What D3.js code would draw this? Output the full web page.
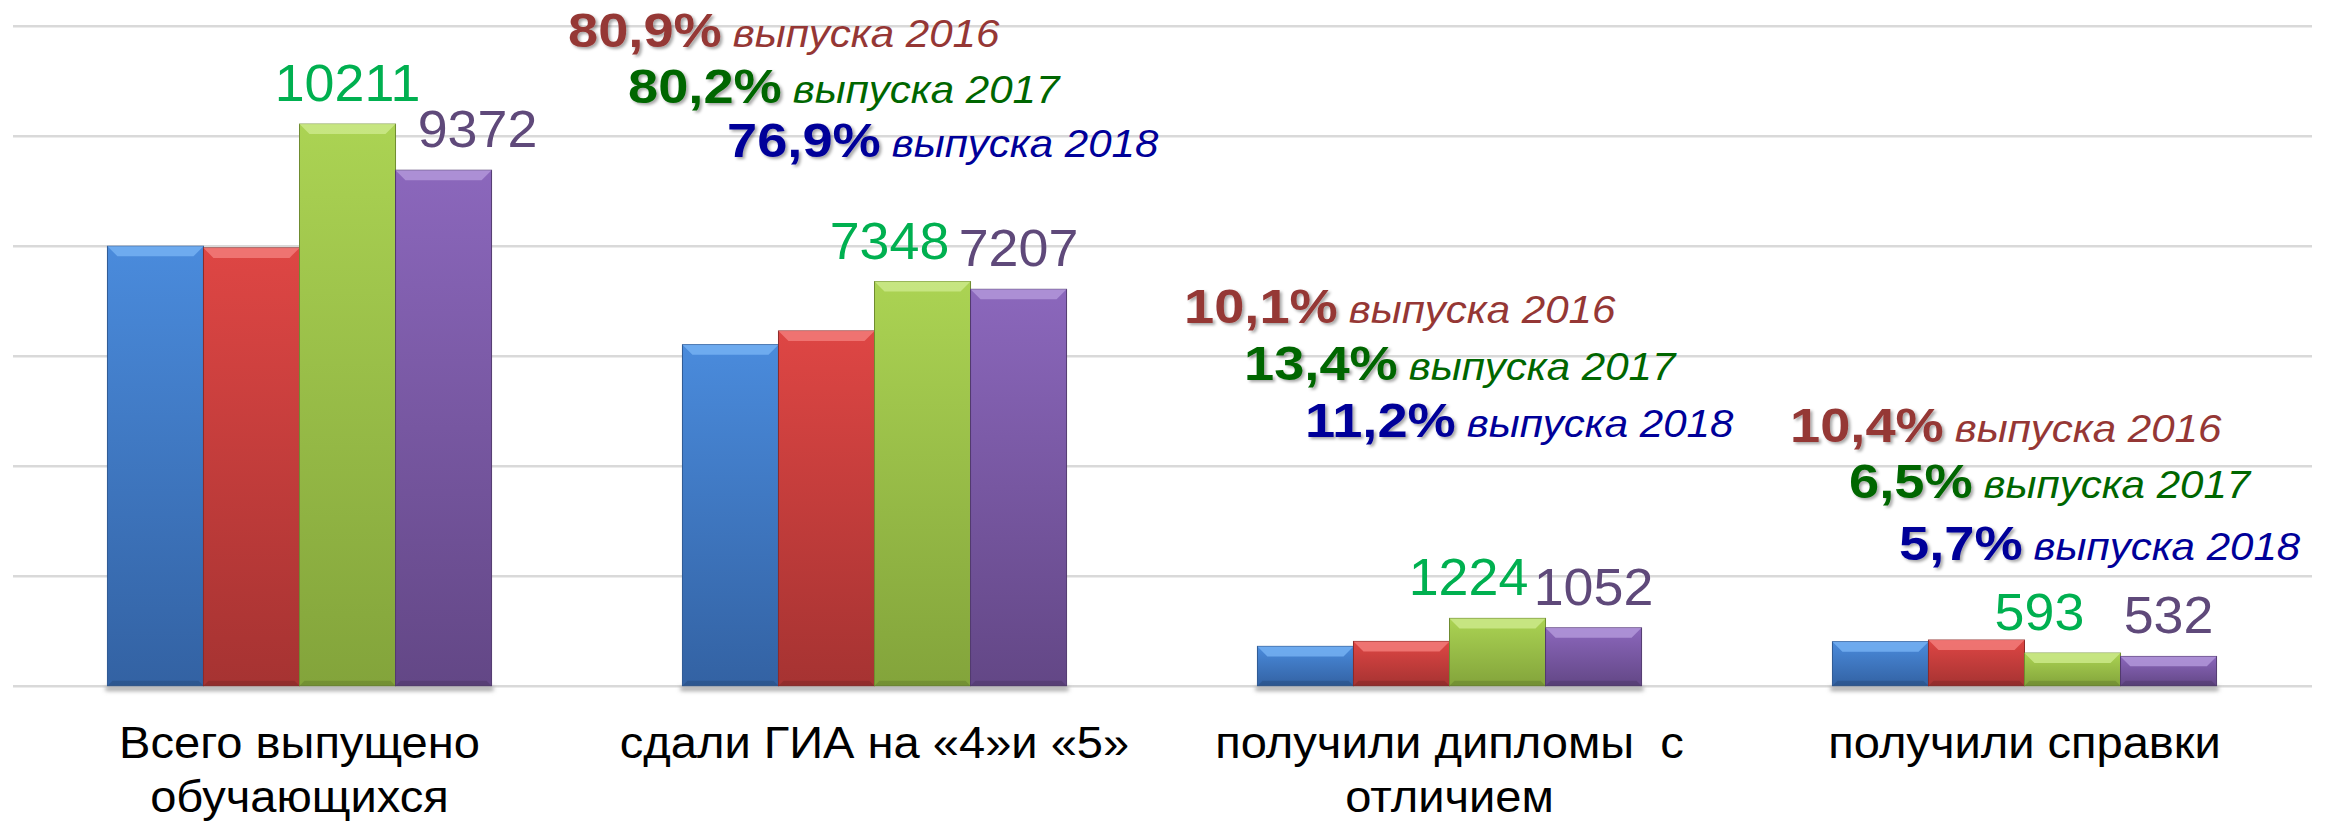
<!DOCTYPE html>
<html>
<head>
<meta charset="utf-8">
<script src="https://cdn.jsdelivr.net/npm/d3@7"></script>
<style>
  body { margin: 0; background: #fff; }
  svg { display: block; font-family: "Liberation Sans", Arial, sans-serif; }
</style>
</head>
<body>
<div id="chart"></div>
<script>
// categories (line breaks as in the original slide)
var categories = ["Всего выпущено\nобучающихся", "сдали ГИА на «4»и «5»", "получили дипломы  с\nотличием", "получили справки"];
var seriesKeys = ["2015", "2016", "2017", "2018"];

// values (2015/2016 have no labels)
var values2015 = [7990, 6200, 715, 800];
var values2016 = [7960, 6450, 805, 830];
var values2017 = [10211, 7348, 1224, 593];
var values2018 = [9372, 7207, 1052, 532];
var labelledSeries = ["2017", "2018"];

var yTicks = [0, 2000, 4000, 6000, 8000, 10000, 12000];

// share annotations
var noteYears = ["2016", "2017", "2018"];
var noteGia = ["80,9%", "80,2%", "76,9%"];
var noteHonours = ["10,1%", "13,4%", "11,2%"];
var noteCert = ["10,4%", "6,5%", "5,7%"];

var W = 2334, H = 823;
var plotLeft = 12, plotRight = 2312, plotTop = 25.7, plotBottom = 685.7;

var svg = d3.select("#chart").append("svg")
  .attr("width", W)
  .attr("height", H);

var defs = svg.append("defs");

var colors = {
  "2015": { top: "#4a8bdc", bottom: "#3362a3", light: "#74b0f2", edge: "#2d5892" },
  "2016": { top: "#de4644", bottom: "#a63332", light: "#f27b79", edge: "#8e2a29" },
  "2017": { top: "#abd353", bottom: "#83a43b", light: "#cbe98a", edge: "#6f8c30" },
  "2018": { top: "#8b67bc", bottom: "#634786", light: "#b197d9", edge: "#523a70" }
};

seriesKeys.forEach(function(k) {
  var g = defs.append("linearGradient")
    .attr("id", "grad" + k)
    .attr("x1", 0).attr("y1", 0).attr("x2", 0).attr("y2", 1);
  g.append("stop").attr("offset", "0%").attr("stop-color", colors[k].top);
  g.append("stop").attr("offset", "100%").attr("stop-color", colors[k].bottom);
});

var shadow = defs.append("filter").attr("id", "txtShadow")
  .attr("x", "-10%").attr("y", "-20%").attr("width", "130%").attr("height", "150%");
shadow.append("feDropShadow")
  .attr("dx", 2).attr("dy", 2).attr("stdDeviation", 1.6)
  .attr("flood-color", "#000").attr("flood-opacity", 0.35);

var blur = defs.append("filter").attr("id", "barShadow")
  .attr("x", "-5%").attr("y", "-200%").attr("width", "110%").attr("height", "500%");
blur.append("feGaussianBlur").attr("stdDeviation", 2.2);

// scales
var x0 = d3.scaleBand()
  .domain(categories)
  .range([plotLeft, plotRight])
  .padding(0);

var bw = x0.bandwidth();
var groupW = bw * 0.668;
var x1 = d3.scaleBand()
  .domain(seriesKeys)
  .range([(bw - groupW) / 2, (bw + groupW) / 2])
  .padding(0);

var y = d3.scaleLinear()
  .domain([0, 12000])
  .range([plotBottom, plotTop]);

// gridlines
var grid = svg.append("g")
  .attr("transform", "translate(" + (plotLeft + 1) + ",0)")
  .call(d3.axisLeft(y).tickValues(yTicks).tickSize(-(plotRight - plotLeft - 1)).tickFormat(""));
grid.select(".domain").remove();
grid.selectAll(".tick line").attr("stroke", "#d9d9d9").attr("stroke-width", 2.5);

// table rows
var table = categories.map(function(c, i) {
  return { cat: c, "2015": values2015[i], "2016": values2016[i], "2017": values2017[i], "2018": values2018[i] };
});

// soft shadow under each group
svg.append("g").selectAll("rect")
  .data(categories)
  .enter().append("rect")
    .attr("x", function(d) { return x0(d) + x1.range()[0] - 2; })
    .attr("y", plotBottom + 1)
    .attr("width", groupW + 4)
    .attr("height", 4)
    .attr("fill", "#9a9a9a")
    .attr("filter", "url(#barShadow)");

var groups = svg.append("g").selectAll("g")
  .data(table)
  .enter().append("g")
    .attr("transform", function(d) { return "translate(" + x0(d.cat) + ",0)"; });

var bars = groups.selectAll("g")
  .data(function(d) { return seriesKeys.map(function(k) { return { key: k, value: d[k] }; }); })
  .enter().append("g");

bars.append("rect")
  .attr("x", function(d) { return x1(d.key); })
  .attr("y", function(d) { return y(d.value); })
  .attr("width", x1.bandwidth())
  .attr("height", function(d) { return y(0) - y(d.value); })
  .attr("fill", function(d) { return "url(#grad" + d.key + ")"; })
  .attr("stroke", function(d) { return colors[d.key].edge; })
  .attr("stroke-width", 1);

// bevel on top of each bar
bars.append("polygon")
  .attr("points", function(d) {
    var xl = x1(d.key), xr = xl + x1.bandwidth(), t = y(d.value);
    var dep = Math.min(10, (y(0) - t) / 3);
    return [[xl, t], [xr, t], [xr - dep, t + dep], [xl + dep, t + dep]].join(" ");
  })
  .attr("fill", function(d) { return colors[d.key].light; })
  .attr("opacity", 0.85);

// darker bevel at the bottom
bars.append("polygon")
  .attr("points", function(d) {
    var xl = x1(d.key), xr = xl + x1.bandwidth(), b = y(0);
    var dep = Math.min(5, (y(0) - y(d.value)) / 4);
    return [[xl, b], [xr, b], [xr - dep, b - dep], [xl + dep, b - dep]].join(" ");
  })
  .attr("fill", "#000")
  .attr("opacity", 0.12);

// value labels for 2017 and 2018
var labelNudge = { "2017": [0, -33, -29, -33], "2018": [34, 0, 0, 0] };
var labelColor = { "2017": "#00b050", "2018": "#5f497a" };

groups.each(function(row, i) {
  d3.select(this).selectAll("text.val")
    .data(labelledSeries)
    .enter().append("text")
      .attr("class", "val")
      .attr("transform", function(k) {
        return "translate(" + (x1(k) + x1.bandwidth() / 2 + labelNudge[k][i]) + "," + (y(row[k]) - 23) + ") scale(1.035,1)";
      })
      .attr("text-anchor", "middle")
      .attr("font-size", 52)
      .attr("fill", function(k) { return labelColor[k]; })
      .text(function(k) { return row[k]; });
});

// category labels (text in the slide is slightly stretched horizontally)
svg.append("g").selectAll("text")
  .data(categories)
  .enter().append("text")
    .attr("transform", function(d) { return "translate(" + (x0(d) + bw / 2) + ",758) scale(1.07,1)"; })
    .attr("text-anchor", "middle")
    .attr("font-size", 44)
    .attr("fill", "#000")
    .style("white-space", "pre")
    .each(function(d) {
      var t = d3.select(this);
      d.split("\n").forEach(function(line, j) {
        t.append("tspan")
          .attr("x", 0)
          .attr("dy", j === 0 ? 0 : 54)
          .text(line);
      });
    });

// annotation blocks: offsets from band start and baselines
var noteColors = ["#953735", "#006600", "#000099"];
var notes = [
  { cat: categories[1], pct: noteGia, dx: [-19, 41, 140], y: [47, 103, 157] },
  { cat: categories[2], pct: noteHonours, dx: [22, 82, 143], y: [323, 380, 437] },
  { cat: categories[3], pct: noteCert, dx: [53, 112, 162], y: [442, 498, 560] }
];
var boldSx = 1.13, italSx = 1.107;

var noteG = svg.append("g");
notes.forEach(function(n) {
  n.pct.forEach(function(p, j) {
    var xs = x0(n.cat) + n.dx[j];
    var b = noteG.append("text")
      .attr("transform", "translate(" + xs + "," + n.y[j] + ") scale(" + boldSx + ",1)")
      .attr("font-size", 48)
      .attr("font-weight", "bold")
      .attr("fill", noteColors[j])
      .attr("filter", "url(#txtShadow)")
      .text(p);
    var wBold = b.node().getComputedTextLength() * boldSx;
    noteG.append("text")
      .attr("transform", "translate(" + (xs + wBold + 11) + "," + n.y[j] + ") scale(" + italSx + ",1)")
      .attr("font-size", 38)
      .attr("font-style", "italic")
      .attr("fill", noteColors[j])
      .text("выпуска " + noteYears[j]);
  });
});
</script>
</body>
</html>
